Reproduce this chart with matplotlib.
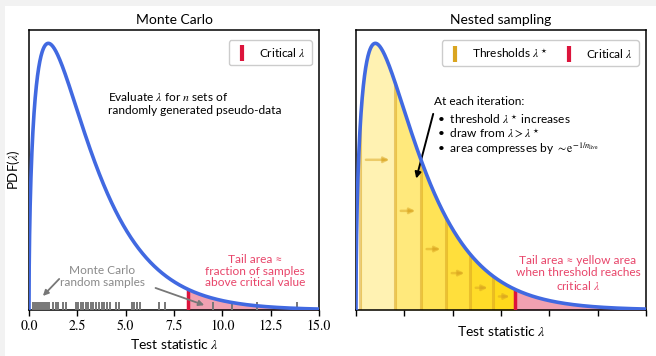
import numpy as np
import matplotlib
matplotlib.use("Agg")
import matplotlib.pyplot as plt
from matplotlib.lines import Line2D
from matplotlib.patches import Rectangle

# ── Данные ────────────────────────────────────────────────────────────────
dof = 3                      # chi-squared, 3 degrees of freedom
lam_crit = 8.24              # critical lambda
x_max = 15.0
xticks = [0.0, 2.5, 5.0, 7.5, 10.0, 12.5, 15.0]

mc_samples = [0.19, 0.31, 0.40, 0.52, 0.60, 0.71, 0.81, 0.91, 1.05, 1.26, 1.38,
              1.52, 1.77, 1.91, 2.43, 2.55, 2.69, 2.81, 2.95, 3.07, 3.19, 3.33,
              3.47, 3.60, 3.76, 3.88, 4.02, 4.19, 4.50, 4.66, 5.31, 5.43, 5.57,
              5.74, 6.74, 7.03, 9.53, 10.48, 11.78, 13.85]
thresholds = [0.22, 2.02, 3.36, 4.66, 5.90, 7.10]

BLUE = "#4169e1"
RED = "crimson"
GOLD = "#ffd700"
GOLDLINE = "#daa520"
TAILTXT = "#e8456a"
FS = 8.6

plt.rcParams["font.family"] = ["Lato", "DejaVu Sans"]
plt.rcParams["mathtext.fontset"] = "stix"


def pdf(x):
    x = np.asarray(x, dtype=float)
    return x ** (dof / 2 - 1) * np.exp(-x / 2) / (2 ** (dof / 2) * 1.7724538509055159 / 2)


xs = np.linspace(0, x_max, 1500)
ys = pdf(xs)
ytop = ys.max() * 1.05

fig = plt.figure(figsize=(6.56, 3.56), dpi=100)
fig.patch.set_facecolor("white")
# серый край скриншота
fig.patches.append(Rectangle((0, 1 - 6 / 356), 1, 6 / 356, transform=fig.transFigure,
                             facecolor="#f2f2f2", edgecolor="none", zorder=-5))
fig.patches.append(Rectangle((0, 0), 5 / 656, 1, transform=fig.transFigure,
                             facecolor="#f2f2f2", edgecolor="none", zorder=-5))

axL = fig.add_axes([29 / 656, 46 / 356, 290 / 656, 280 / 356])
axR = fig.add_axes([356 / 656, 46 / 356, 290 / 656, 280 / 356])

for ax, title in [(axL, "Monte Carlo"), (axR, "Nested sampling")]:
    ax.set_xlim(0, x_max)
    ax.set_ylim(0, ytop)
    ax.set_yticks([])
    ax.set_xticks(xticks)
    ax.set_title(title, fontsize=10, pad=4)
    ax.set_xlabel(r"Test statistic $\lambda$", fontsize=10, labelpad=3)
    for s in ax.spines.values():
        s.set_linewidth(1.1)
    ax.tick_params(axis="x", length=4, width=1, labelsize=10, pad=3)

for lab in axL.get_xticklabels():
    lab.set_fontfamily("STIXGeneral")
axR.set_xticklabels([])
axL.set_ylabel(r"PDF($\lambda$)", fontsize=9.5, labelpad=5)

# ── Monte Carlo ──────────────────────────────────────────────────────────
tail = xs >= lam_crit
axL.fill_between(xs[tail], 0, ys[tail], color=RED, alpha=0.4, lw=0, zorder=1)
axL.vlines(lam_crit, 0, pdf(lam_crit), color=RED, lw=2.5, zorder=3)
axL.vlines(mc_samples, 0, 0.03, transform=axL.get_xaxis_transform(),
           color="#777777", lw=1.4, zorder=4)
axL.plot(xs, ys, color=BLUE, lw=2.6, zorder=5)

axL.text(4.1, 0.738, "Evaluate $\\lambda$ for $n$ sets of\nrandomly generated pseudo-data",
         transform=axL.get_xaxis_transform(), fontsize=FS, va="center", ha="left",
         linespacing=1.2)
axL.text(3.78, 0.121, "Monte Carlo\nrandom samples", transform=axL.get_xaxis_transform(),
         fontsize=FS, color="#8a8a8a", ha="center", va="center", linespacing=1.1)
axL.annotate("", xy=(0.62, 0.043), xytext=(1.66, 0.118),
             xycoords=("data", "axes fraction"), textcoords=("data", "axes fraction"),
             arrowprops=dict(arrowstyle="-|>", color="#777777", lw=1.3, mutation_scale=8))
axL.annotate("", xy=(9.2, 0.014), xytext=(6.41, 0.082),
             xycoords=("data", "axes fraction"), textcoords=("data", "axes fraction"),
             arrowprops=dict(arrowstyle="-|>", color="#777777", lw=1.3, mutation_scale=8))
axL.text(11.69, 0.139, "Tail area \u2248\nfraction of samples\nabove critical value",
         transform=axL.get_xaxis_transform(), fontsize=FS, color=TAILTXT,
         ha="center", va="center", linespacing=1.1)

handL = [Line2D([], [], color=RED, marker="|", ls="None", markersize=11,
                markeredgewidth=3, label=r"Critical $\lambda$")]
axL.legend(handles=handL, loc="upper right", fontsize=FS, frameon=True,
           edgecolor="#cccccc", framealpha=1, handlelength=1.2, borderpad=0.5,
           bbox_to_anchor=(0.995, 0.985))

# ── Nested sampling ──────────────────────────────────────────────────────
for t in thresholds:
    m = (xs >= t) & (xs <= lam_crit)
    axR.fill_between(xs[m], 0, ys[m], color=GOLD, alpha=0.3, lw=0, zorder=1)
axR.fill_between(xs[tail], 0, ys[tail], color=RED, alpha=0.4, lw=0, zorder=1)
axR.vlines(thresholds, 0, pdf(thresholds), color=GOLDLINE, lw=2.2, alpha=0.55, zorder=2)
axR.vlines(lam_crit, 0, pdf(lam_crit), color=RED, lw=2.5, zorder=3)

edges = thresholds + [lam_crit]
for a, b in zip(edges[:-1], edges[1:]):
    yh = 0.66 * pdf(b)
    axR.annotate("", xy=(b - 0.15, yh), xytext=(a + 0.15, yh),
                 arrowprops=dict(arrowstyle="-|>", color=GOLDLINE, alpha=0.5,
                                 lw=1.8, mutation_scale=8), zorder=3)
axR.plot(xs, ys, color=BLUE, lw=2.6, zorder=5)

tr = axR.get_xaxis_transform()
axR.text(4.05, 0.743, "At each iteration:", transform=tr, fontsize=FS, va="center")
bullets = [r"threshold $\lambda^\star$ increases",
           r"draw from $\lambda > \lambda^\star$",
           r"area compresses by $\sim \mathrm{e}^{-1/n_\mathrm{live}}$"]
for i, b in enumerate(bullets):
    axR.text(4.2, 0.682 - i * 0.053, "\u2022  " + b, transform=tr, fontsize=FS,
             va="center")
axR.annotate("", xy=(3.08, 0.46), xytext=(4.03, 0.71),
             xycoords=("data", "axes fraction"), textcoords=("data", "axes fraction"),
             arrowprops=dict(arrowstyle="-|>", color="black", lw=1.4, mutation_scale=9))
axR.text(11.48, 0.129, "Tail area \u2248 yellow area\nwhen threshold reaches\ncritical $\\lambda$",
         transform=tr, fontsize=FS, color=TAILTXT, ha="center", va="center",
         linespacing=1.1)

handR = [Line2D([], [], color=GOLDLINE, marker="|", ls="None", markersize=11,
                markeredgewidth=3, label=r"Thresholds $\lambda^\star$"),
         Line2D([], [], color=RED, marker="|", ls="None", markersize=11,
                markeredgewidth=3, label=r"Critical $\lambda$")]
axR.legend(handles=handR, loc="upper right", ncol=2, fontsize=FS, frameon=True,
           edgecolor="#cccccc", framealpha=1, handlelength=1.2, borderpad=0.5,
           columnspacing=1.2, bbox_to_anchor=(0.995, 0.985))

fig.savefig("out.png", dpi=100, facecolor="white")
